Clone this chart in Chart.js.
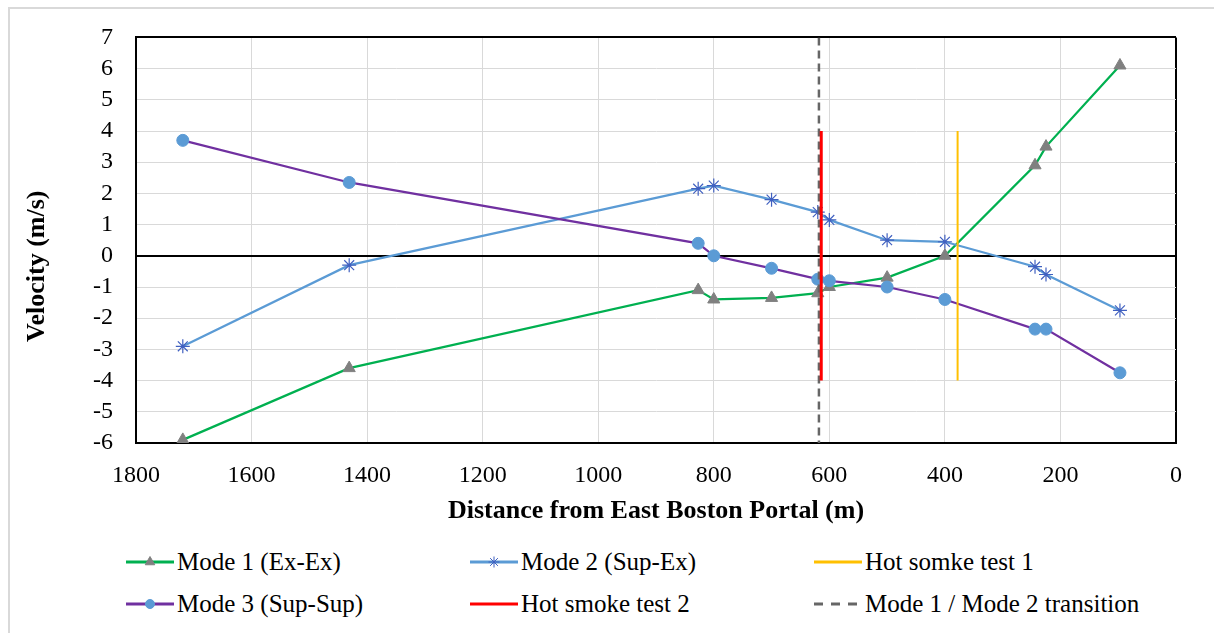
<!DOCTYPE html>
<html>
<head>
<meta charset="utf-8">
<script src="https://cdn.jsdelivr.net/npm/chart.js@4.4.0/dist/chart.umd.min.js"></script>
<style>
	body { margin: 0; background: #fff; width: 1214px; height: 633px; overflow: hidden; position: relative; font-family: "Liberation Serif", "Times New Roman", serif; }
	#frame { position: absolute; left: 8px; top: 7px; width: 1300px; height: 700px; border-top: 2px solid #d9d9d9; border-left: 2px solid #d9d9d9; }
	#velocity-chart { position: absolute; left: 0; top: 0; }
	.leg { position: absolute; height: 30px; display: flex; align-items: center; font-size: 25px; color: #000; white-space: nowrap; }
	.leg canvas { margin-right: 2px; }
</style>
</head>
<body>
<div id="frame"></div>
<canvas id="velocity-chart" width="1214" height="533"></canvas>
<div id="legend"></div>
<script>
// distance from East Boston Portal (m), same stations for every mode
var distance = [1719, 1431, 827, 800, 700, 620, 600, 500, 400, 244, 225, 97];
// velocity (m/s)
var mode1 = [-5.9, -3.6, -1.1, -1.4, -1.35, -1.2, -1.0, -0.7, 0.0, 2.9, 3.5, 6.1];
var mode2 = [-2.9, -0.3, 2.15, 2.25, 1.8, 1.4, 1.15, 0.5, 0.45, -0.35, -0.6, -1.75];
var mode3 = [3.7, 2.35, 0.4, 0.0, -0.4, -0.75, -0.8, -1.0, -1.4, -2.35, -2.35, -3.75];

// vertical reference lines: hot smoke test 1, hot smoke test 2, mode transition
var refLineX = [378, 614, 618];
var refLineTop = [4, 4, 7];
var refLineBottom = [-4, -4, -6];

var serif = "Liberation Serif";

function seriesPoints(ys) {
	return distance.map(function (d, i) { return { x: d, y: ys[i] }; });
}
function refLine(i) {
	return [{ x: refLineX[i], y: refLineTop[i] }, { x: refLineX[i], y: refLineBottom[i] }];
}
function isEdge(v, list) {
	return list.indexOf(v) !== -1;
}

function velocityChart() {
	var canvas = document.getElementById("velocity-chart");
	var chart = new Chart(canvas, {
		type: 'scatter',
		data: {
			datasets: [{
				label: "Mode 1 (Ex-Ex)",
				data: seriesPoints(mode1),
				showLine: true,
				borderColor: "#00b050",
				borderWidth: 2.25,
				pointStyle: 'triangle',
				pointRadius: 7,
				pointBackgroundColor: "#808080",
				pointBorderColor: "#808080",
				pointBorderWidth: 1,
				order: 5
			}, {
				label: "Mode 2 (Sup-Ex)",
				data: seriesPoints(mode2),
				showLine: true,
				borderColor: "#5b9bd5",
				borderWidth: 2.25,
				pointStyle: 'star',
				pointRadius: 7,
				pointBackgroundColor: "#4060c0",
				pointBorderColor: "#4060c0",
				pointBorderWidth: 1.2,
				order: 4
			}, {
				label: "Mode 3 (Sup-Sup)",
				data: seriesPoints(mode3),
				showLine: true,
				borderColor: "#7030a0",
				borderWidth: 2.25,
				pointStyle: 'circle',
				pointRadius: 6,
				pointBackgroundColor: "#5b9bd5",
				pointBorderColor: "#5b9bd5",
				pointBorderWidth: 1,
				order: 3
			}, {
				label: "Hot somke test 1",
				data: refLine(0),
				showLine: true,
				borderColor: "#ffc000",
				borderWidth: 2,
				pointRadius: 0,
				order: 2
			}, {
				label: "Hot smoke test 2",
				data: refLine(1),
				showLine: true,
				borderColor: "#ff0000",
				borderWidth: 3,
				pointRadius: 0,
				order: 0
			}, {
				label: "Mode 1 / Mode 2 transition",
				data: refLine(2),
				showLine: true,
				borderColor: "#666666",
				borderWidth: 2.5,
				borderDash: [8, 5],
				pointRadius: 0,
				order: 1
			}]
		},
		options: {
			responsive: false,
			animation: false,
			events: [],
			layout: { padding: { top: 19, right: 38, left: 0, bottom: 0 } },
			plugins: {
				legend: { display: false },
				tooltip: { enabled: false }
			},
			scales: {
				x: {
					type: 'linear',
					reverse: true,
					min: 0,
					max: 1800,
					ticks: {
						stepSize: 200,
						autoSkip: false,
						maxRotation: 0,
						padding: 18,
						color: '#000',
						font: { family: serif, size: 24 },
						callback: function (v) { return String(v); }
					},
					grid: {
						drawTicks: false,
						color: function (c) { return (c.tick && isEdge(c.tick.value, [0, 1800])) ? '#000' : '#d9d9d9'; },
						lineWidth: function (c) { return (c.tick && isEdge(c.tick.value, [0, 1800])) ? 2 : 1; }
					},
					border: { color: '#000', width: 2 },
					title: {
						display: true,
						text: 'Distance from East Boston Portal (m)',
						color: '#000',
						font: { family: serif, size: 26, weight: 'bold' },
						padding: { top: 0, bottom: 6 }
					},
					afterFit: function (s) { s.height = 90; }
				},
				y: {
					min: -6,
					max: 7,
					ticks: {
						stepSize: 1,
						autoSkip: false,
						padding: 23,
						color: '#000',
						font: { family: serif, size: 24 }
					},
					grid: {
						drawTicks: false,
						color: function (c) { return (c.tick && isEdge(c.tick.value, [-6, 0, 7])) ? '#000' : '#d9d9d9'; },
						lineWidth: function (c) { return (c.tick && isEdge(c.tick.value, [-6, 0, 7])) ? 2 : 1; }
					},
					border: { color: '#000', width: 2 },
					title: {
						display: true,
						// trailing spaces push the title down a little, like the original
						text: 'Velocity (m/s)        ',
						color: '#000',
						font: { family: serif, size: 26, weight: 'bold' },
						padding: { top: 22, bottom: 0 }
					},
					afterFit: function (s) { s.width = 136; }
				}
			}
		}
	});
	return chart;
}

// legend laid out in a 3 x 2 grid like the excel one
function drawLegend(chart) {
	var legendOrder = [0, 1, 3, 2, 4, 5];
	var colX = [125, 469, 813];
	var rowY = [562, 604];
	var box = document.getElementById("legend");
	legendOrder.forEach(function (dsIndex, k) {
		var ds = chart.data.datasets[dsIndex];
		var item = document.createElement("div");
		item.className = "leg";
		item.style.left = colX[k % 3] + "px";
		item.style.top = (rowY[Math.floor(k / 3)] - 15) + "px";

		var sample = document.createElement("canvas");
		sample.width = 50;
		sample.height = 20;
		var ctx = sample.getContext("2d");
		ctx.strokeStyle = ds.borderColor;
		ctx.lineWidth = 3;
		if (ds.borderDash) ctx.setLineDash([9, 8]);
		ctx.beginPath();
		ctx.moveTo(1, 10);
		ctx.lineTo(49, 10);
		ctx.stroke();
		ctx.setLineDash([]);
		if (ds.pointRadius) {
			ctx.fillStyle = ds.pointBackgroundColor;
			ctx.strokeStyle = ds.pointBorderColor;
			ctx.lineWidth = 1;
			Chart.helpers.drawPoint(ctx, {
				pointStyle: ds.pointStyle,
				radius: ds.pointRadius - 1.5,
				borderWidth: 1,
				rotation: 0
			}, 25, 10);
		}
		item.appendChild(sample);

		var text = document.createElement("span");
		text.textContent = ds.label;
		item.appendChild(text);
		box.appendChild(item);
	});
}

drawLegend(velocityChart());
</script>
</body>
</html>
